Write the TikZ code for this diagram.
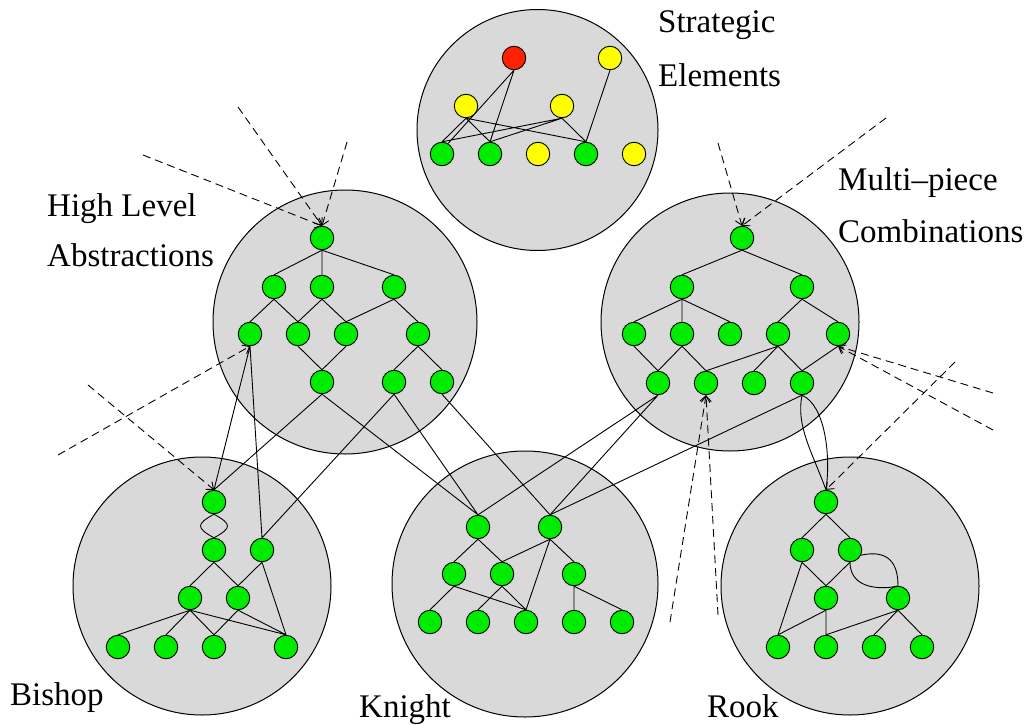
\documentclass[tikz,border=0pt]{standalone}
\usepackage{fontspec}
\setmainfont{Liberation Serif}
\usetikzlibrary{arrows.meta}
\definecolor{disc}{RGB}{217,217,217}
\definecolor{leaf}{RGB}{0,235,0}
\definecolor{hot}{RGB}{255,34,0}
\definecolor{warm}{RGB}{255,255,0}
\pgfdeclarelayer{discs}
\pgfdeclarelayer{wires}
\pgfsetlayers{discs,wires,main}
\begin{document}
\begin{tikzpicture}[x=1pt,y=-1pt,
  region/.style={circle, draw=black, fill=disc, line width=1pt, inner sep=0pt},
  gn/.style={circle, draw=black, fill=leaf, minimum size=23.5pt, inner sep=0pt, line width=0.9pt},
  yn/.style={gn, fill=warm},
  rn/.style={gn, fill=hot},
  link/.style={draw=black, line width=0.9pt},
  hint/.style={draw=black, line width=0.9pt, dash pattern=on 8pt off 5pt,
    -{Straight Barb[length=6pt,width=10pt]}},
  label/.style={anchor=base west, inner sep=0pt, font=\fontsize{33}{40}\selectfont}]
\useasboundingbox (0,0) rectangle (1028,725);

% discs
\begin{pgfonlayer}{discs}
\node[region, minimum size=241pt] (strat) at (537.5,130) {};
\node[region, minimum size=264pt] (high) at (345,322) {};
\node[region, minimum size=258pt] (multi) at (730,322) {};
\node[region, minimum size=258pt] (bish) at (202,586) {};
\node[region, minimum size=266pt] (knig) at (525,584) {};
\node[region, minimum size=258pt] (rook) at (850,586) {};
\end{pgfonlayer}

% labels
\node[label] (t1) at (658,33) {Strategic};
\node[label] (t2) at (658,86) {Elements};
\node[label] (t3) at (47,216) {High Level};
\node[label] (t4) at (47,266) {Abstractions};
\node[label] (t5) at (838,190) {Multi–piece};
\node[label] (t6) at (838,242) {Combinations};
\node[label] (t7) at (10,705) {Bishop};
\node[label] (t8) at (359,717) {Knight};
\node[label] (t9) at (707,717) {Rook};

% strategic elements
\node[rn] (sR) at (514,58) {};
\node[yn] (sY1) at (610,58) {};
\node[yn] (sY2) at (466,106) {};
\node[yn] (sY3) at (562,106) {};
\node[gn] (sG1) at (442,154) {};
\node[gn] (sG2) at (490,154) {};
\node[yn] (sY4) at (538,154) {};
\node[gn] (sG3) at (586,154) {};
\node[yn] (sY5) at (634,154) {};

% high level abstractions
\node[gn] (hA) at (322,238) {};
\node[gn] (hB1) at (274,287) {};
\node[gn] (hB2) at (322,287) {};
\node[gn] (hB3) at (394,287) {};
\node[gn] (hC1) at (250,334) {};
\node[gn] (hC2) at (298,334) {};
\node[gn] (hC3) at (346,334) {};
\node[gn] (hC4) at (418,334) {};
\node[gn] (hD1) at (322,382) {};
\node[gn] (hD2) at (394,382) {};
\node[gn] (hD3) at (442,382) {};

% multi-piece combinations
\node[gn] (mA) at (742,238) {};
\node[gn] (mB1) at (682,287) {};
\node[gn] (mB2) at (802,287) {};
\node[gn] (mC1) at (634,334) {};
\node[gn] (mC2) at (682,334) {};
\node[gn] (mC3) at (730,334) {};
\node[gn] (mC4) at (778,334) {};
\node[gn] (mC5) at (838,334) {};
\node[gn] (mD1) at (658,383) {};
\node[gn] (mD2) at (706,383) {};
\node[gn] (mD3) at (754,383) {};
\node[gn] (mD4) at (802,383) {};

% bishop
\node[gn] (bA) at (214,502) {};
\node[gn] (bB1) at (214,550) {};
\node[gn] (bB2) at (262,550) {};
\node[gn] (bC1) at (190,598) {};
\node[gn] (bC2) at (238,598) {};
\node[gn] (bD1) at (118,647) {};
\node[gn] (bD2) at (166,647) {};
\node[gn] (bD3) at (214,647) {};
\node[gn] (bD4) at (286,647) {};

% knight
\node[gn] (kA1) at (478,527) {};
\node[gn] (kA2) at (550,527) {};
\node[gn] (kB1) at (454,574) {};
\node[gn] (kB2) at (502,574) {};
\node[gn] (kB3) at (574,574) {};
\node[gn] (kC1) at (430,622) {};
\node[gn] (kC2) at (478,622) {};
\node[gn] (kC3) at (526,622) {};
\node[gn] (kC4) at (574,622) {};
\node[gn] (kC5) at (622,622) {};

% rook
\node[gn] (rA) at (826,502) {};
\node[gn] (rB1) at (802,550) {};
\node[gn] (rB2) at (850,550) {};
\node[gn] (rC1) at (826,598) {};
\node[gn] (rC2) at (898,598) {};
\node[gn] (rD1) at (778,647) {};
\node[gn] (rD2) at (826,647) {};
\node[gn] (rD3) at (874,647) {};
\node[gn] (rD4) at (922,647) {};

% free ends of the dashed hints
\coordinate (d1) at (143,155);
\coordinate (d2) at (238,107);
\coordinate (d3) at (347,142);
\coordinate (d4) at (718,143);
\coordinate (d5) at (886,118);
\coordinate (d6) at (88,385);
\coordinate (d7) at (58,455);
\coordinate (d8) at (670,622);
\coordinate (d9) at (718,615);
\coordinate (d10) at (955,362);
\coordinate (d11) at (993,393);
\coordinate (d12) at (993,430);

\begin{pgfonlayer}{wires}
% edges inside the discs
\path[link]
  (sR.south) -- (sG1.60)
  (sR.south) -- (sG2.north)
  (sY2.south) -- (sG1.north)
  (sY2.south) -- (sG2.north)
  (sY2.south) -- (sG3.north)
  (sY3.south) -- (sG1.north)
  (sY3.south) -- (sG2.north)
  (sY3.south) -- (sG3.north)
  (sY1.south) -- (sG3.north)
  (hA.south) -- (hB1.north)
  (hA.south) -- (hB2.north)
  (hA.south) -- (hB3.north)
  (hB1.south) -- (hC1.north)
  (hB1.south) -- (hC2.north)
  (hB2.south) -- (hC2.north)
  (hB2.south) -- (hC3.north)
  (hB3.south) -- (hC3.north)
  (hB3.south) -- (hC4.north)
  (hC2.south) -- (hD1.north)
  (hC3.south) -- (hD1.north)
  (hC4.south) -- (hD2.north)
  (hC4.south) -- (hD3.north)
  (mA.south) -- (mB1.north)
  (mA.south) -- (mB2.north)
  (mB1.south) -- (mC1.north)
  (mB1.south) -- (mC2.north)
  (mB1.south) -- (mC3.north)
  (mB2.south) -- (mC4.north)
  (mB2.south) -- (mC5.north)
  (mC1.south) -- (mD1.north)
  (mC2.south) -- (mD1.north)
  (mC2.south) -- (mD2.north)
  (mC4.south) -- (mD2.north)
  (mC4.south) -- (mD3.north)
  (mC4.south) -- (mD4.north)
  (mC5.south) -- (mD4.north)
  (bB1.south) -- (bC1.north)
  (bB1.south) -- (bC2.north)
  (bB2.south) -- (bC2.north)
  (bB2.south) -- (bD4.north)
  (bC1.south) -- (bD1.north)
  (bC1.south) -- (bD2.north)
  (bC1.south) -- (bD3.north)
  (bC1.south) -- (bD4.north)
  (bC2.south) -- (bD3.north)
  (bC2.south) -- (bD4.north)
  (kA1.south) -- (kB1.north)
  (kA1.south) -- (kB2.north)
  (kA2.south) -- (kB2.north)
  (kA2.south) -- (kC3.north)
  (kA2.south) -- (kB3.north)
  (kB1.south) -- (kC1.north)
  (kB1.south) -- (kC3.north)
  (kB2.south) -- (kC2.north)
  (kB2.south) -- (kC3.north)
  (kB3.south) -- (kC4.north)
  (kB3.south) -- (kC5.north)
  (rA.south) -- (rB1.north)
  (rA.south) -- (rB2.north)
  (rB1.south) -- (rC1.north)
  (rB1.south) -- (rD1.north)
  (rB2.south) -- (rC1.north)
  (rC1.south) -- (rD1.north)
  (rC1.south) -- (rD2.north)
  (rC2.south) -- (rD2.north)
  (rC2.south) -- (rD3.north)
  (rC2.south) -- (rD4.north);
% paired curves
\path[link]
  (bA.south) .. controls +(-18,10) and +(-18,-10) .. (bB1.north)
  (bA.south) .. controls +(18,10) and +(18,-10) .. (bB1.north)
  (rB2.south) .. controls +(0,30) and +(-10,3) .. (rC2.north)
  (rB2.-25) .. controls +(28,-6) and +(0,-22) .. (rC2.north);
% links between the discs
\path[link]
  (hC1.south) -- (bA.north)
  (hC1.south) -- (bB2.north)
  (hD1.south) -- (bA.north)
  (hD1.south) -- (kA1.north)
  (hD2.south) -- (bB2.north)
  (hD2.south) -- (kA1.north)
  (hD3.south) -- (kA2.north)
  (mD1.south) -- (kA1.north)
  (mD1.south) -- (kA2.north)
  (mD4.south) -- (kA2.north)
  (mD4.south) .. controls +(-6,30) and +(-15,-40) .. (rA.north)
  (mD4.south) .. controls +(23,10) and +(5,-35) .. (rA.north);

% dashed hints
\draw[hint] (d1) -- (hA.north);
\draw[hint] (d2) -- (hA.north);
\draw[hint] (d3) -- (hA.north);
\draw[hint] (d4) -- (mA.north);
\draw[hint] (d5) -- (mA.north);
\draw[hint] (d6) -- (bA.north);
\draw[hint] (d7) -- (hC1.south);
\draw[hint] (d8) -- (mD2.south);
\draw[hint] (d9) -- (mD2.south);
\draw[hint] (d10) -- (rA.north);
\draw[hint] (d11) -- (mC5.south);
\draw[hint] (d12) -- (mC5.south);
\end{pgfonlayer}
\end{tikzpicture}
\end{document}
